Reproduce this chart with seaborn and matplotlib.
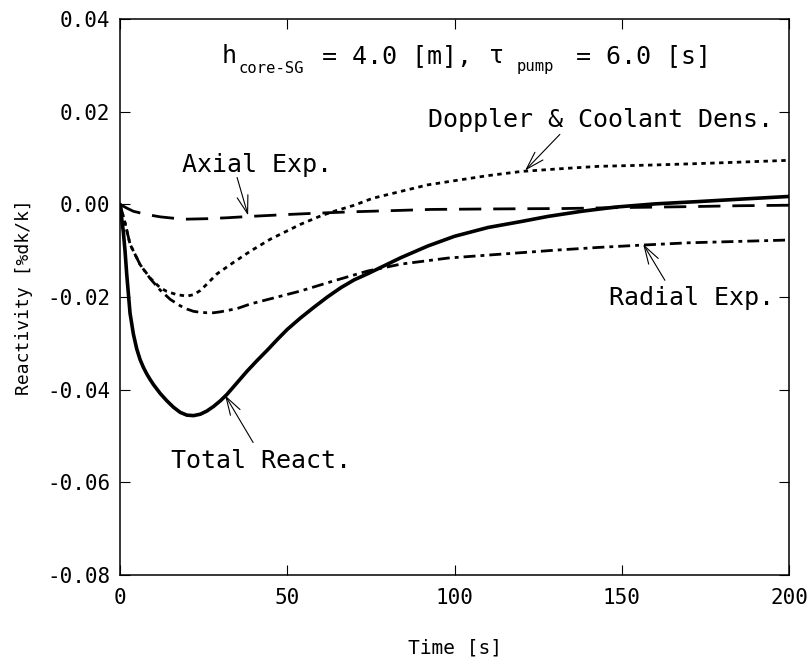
import matplotlib
matplotlib.use("Agg")
import matplotlib.pyplot as plt
import seaborn as sns
import pandas as pd
import numpy as np

# ---------------- data ----------------
total_t = [0, 0.5, 1, 1.5, 2, 3, 4, 5, 6, 7, 8, 9, 10, 12, 14, 16, 18, 20, 22, 24,
           26, 28, 30, 32, 35, 38, 41, 44, 47, 50, 54, 58, 62, 66, 70, 74, 78, 84,
           92, 100, 110, 120, 128, 138, 148, 160, 173, 185, 200]
total_v = [0.0, -0.003, -0.006, -0.010, -0.015, -0.0235, -0.028, -0.0312, -0.0335, -0.0352,
           -0.0366, -0.0378, -0.0389, -0.0408, -0.0424, -0.0438, -0.0449, -0.0455, -0.0456, -0.0453,
           -0.0446, -0.0436, -0.0424, -0.0410, -0.0385, -0.0360, -0.0337, -0.0315, -0.0292, -0.0270,
           -0.0245, -0.0222, -0.0200, -0.0180, -0.0163, -0.0150, -0.0136, -0.0115,
           -0.0090, -0.0069, -0.0050, -0.0037, -0.0026, -0.0015, -0.0006, 0.0001, 0.0006, 0.0011,
           0.0017]

doppler_t = [0, 1.5, 3, 6, 9, 12, 14, 17, 20, 22, 24, 26, 29, 34, 39, 45, 54, 60, 64, 70,
             75.5, 84, 92, 100, 110, 120, 132, 143, 160, 173, 185, 200]
doppler_v = [0.0, -0.004, -0.0086, -0.013, -0.0159, -0.018, -0.0188, -0.0195, -0.0198, -0.0195,
             -0.0186, -0.0172, -0.0150, -0.0125, -0.0101, -0.0075, -0.0043, -0.0025, -0.0015, -0.0002,
             0.0013, 0.0028, 0.0042, 0.0051, 0.0062, 0.0071, 0.0077, 0.0082, 0.0085, 0.0088,
             0.0091, 0.0095]

axial_t = [0, 2, 4, 8, 12, 16, 20, 26, 32, 39, 50, 59, 70, 84, 93, 110, 133, 150, 170, 185, 200]
axial_v = [0.0, -0.0008, -0.0015, -0.0022, -0.0027, -0.0030, -0.0032, -0.0031, -0.0029, -0.0026,
           -0.0022, -0.0019, -0.0016, -0.0013, -0.0011, -0.0010, -0.0009, -0.0007, -0.0005, -0.0003,
           -0.0002]

radial_t = [0, 1.5, 3, 6, 9, 12, 15, 18, 20, 22, 24, 26, 28, 30, 35, 39, 46, 54, 64, 74,
            84, 98, 113, 130, 143, 156, 170, 185, 200]
radial_v = [0.0, -0.004, -0.0086, -0.013, -0.016, -0.0185, -0.0205, -0.0219, -0.0226, -0.0231,
            -0.0233, -0.0234, -0.0234, -0.0232, -0.0225, -0.0215, -0.0202, -0.0187, -0.0165, -0.0144,
            -0.0129, -0.0116, -0.0108, -0.0099, -0.0093, -0.0088, -0.0083, -0.0080, -0.0077]

series_names = ["Total React.", "Doppler & Coolant Dens.", "Axial Exp.", "Radial Exp."]
x_ticks = [0, 50, 100, 150, 200]
y_ticks = [-0.08, -0.06, -0.04, -0.02, 0.00, 0.02, 0.04]

# ---------------- long-format table ----------------
frames = []
for name, t, v in zip(series_names,
                      [total_t, doppler_t, axial_t, radial_t],
                      [total_v, doppler_v, axial_v, radial_v]):
    frames.append(pd.DataFrame({"Time": t, "Reactivity": v, "Series": name}))
df = pd.concat(frames, ignore_index=True)

# ---------------- style ----------------
sns.set_style("ticks")
plt.rcParams["font.family"] = ["DejaVu Sans Mono"]
plt.rcParams["axes.linewidth"] = 1.1
plt.rcParams["axes.edgecolor"] = "black"
plt.rcParams["text.color"] = "black"
plt.rcParams["axes.labelcolor"] = "black"
plt.rcParams["xtick.color"] = "black"
plt.rcParams["ytick.color"] = "black"

fig = plt.figure(figsize=(8.11, 6.63), dpi=100)
ax = fig.add_axes([120 / 811, 1 - 575 / 663, 669 / 811, 556 / 663])

sns.lineplot(
    data=df, x="Time", y="Reactivity",
    hue="Series", style="Series", size="Series",
    palette={n: "black" for n in series_names},
    dashes={"Total React.": "",
            "Doppler & Coolant Dens.": (1.6, 1.6),
            "Axial Exp.": (8, 4.3),
            "Radial Exp.": (4.3, 1.8, 1.4, 1.8)},
    sizes={"Total React.": 2.6,
           "Doppler & Coolant Dens.": 2.0,
           "Axial Exp.": 2.0,
           "Radial Exp.": 2.0},
    legend=False, errorbar=None, ax=ax,
)
for ln in ax.get_lines():
    ln.set_solid_joinstyle("round")

ax.set_xlim(0, 200)
ax.set_ylim(-0.08, 0.04)
ax.set_xticks(x_ticks)
ax.set_yticks(y_ticks)
ax.set_yticklabels([f"{v:.2f}" for v in y_ticks])
ax.tick_params(direction="in", length=7, width=0.8, top=True, right=True,
               labelsize=15, colors="black")
ax.tick_params(axis="y", pad=7)
ax.tick_params(axis="x", pad=9)
for s in ax.spines.values():
    s.set_visible(True)
    s.set_color("black")

ax.set_xlabel("Time [s]", fontsize=14, labelpad=22, color="black")
ax.set_ylabel("Reactivity [%dk/k]", fontsize=13, labelpad=10, color="black")

# ---------------- annotations ----------------
arrow_kw = dict(arrowstyle="->,head_length=1.3,head_width=0.4", color="black",
                lw=0.8, mutation_scale=10, shrinkA=0, shrinkB=0)
ann_fs = 18
ax.text(41.0, 0.0069, "Axial Exp.", fontsize=ann_fs, ha="center", va="baseline", color="black")
ax.annotate("", xy=(38.3, -0.0024), xytext=(35.0, 0.0058), arrowprops=arrow_kw)

ax.text(143.5, 0.0166, "Doppler & Coolant Dens.", fontsize=ann_fs, ha="center", va="baseline",
        color="black")
ax.annotate("", xy=(121.1, 0.0073), xytext=(131.5, 0.0151), arrowprops=arrow_kw)

ax.text(170.8, -0.0218, "Radial Exp.", fontsize=ann_fs, ha="center", va="baseline", color="black")
ax.annotate("", xy=(156.4, -0.0086), xytext=(162.9, -0.0164), arrowprops=arrow_kw)

ax.text(42.2, -0.0568, "Total React.", fontsize=ann_fs, ha="center", va="baseline", color="black")
ax.annotate("", xy=(31.4, -0.0412), xytext=(39.8, -0.0514), arrowprops=arrow_kw)

# ---------------- title inside the plot ----------------
W, H = 811, 663
def ftext(px, py, s, size):
    fig.text(px / W, 1 - py / H, s, fontsize=size, ha="left", va="baseline", color="black")

ftext(222, 63, "h", 18)
ftext(239, 73, "core-SG", 11.2)
ftext(322, 63, "= 4.0 [m],", 18)
ftext(489, 63, "τ", 18)
ftext(517, 71, "pump", 11.2)
ftext(576, 63, "= 6.0 [s]", 18)

fig.savefig("out.png", dpi=100)
